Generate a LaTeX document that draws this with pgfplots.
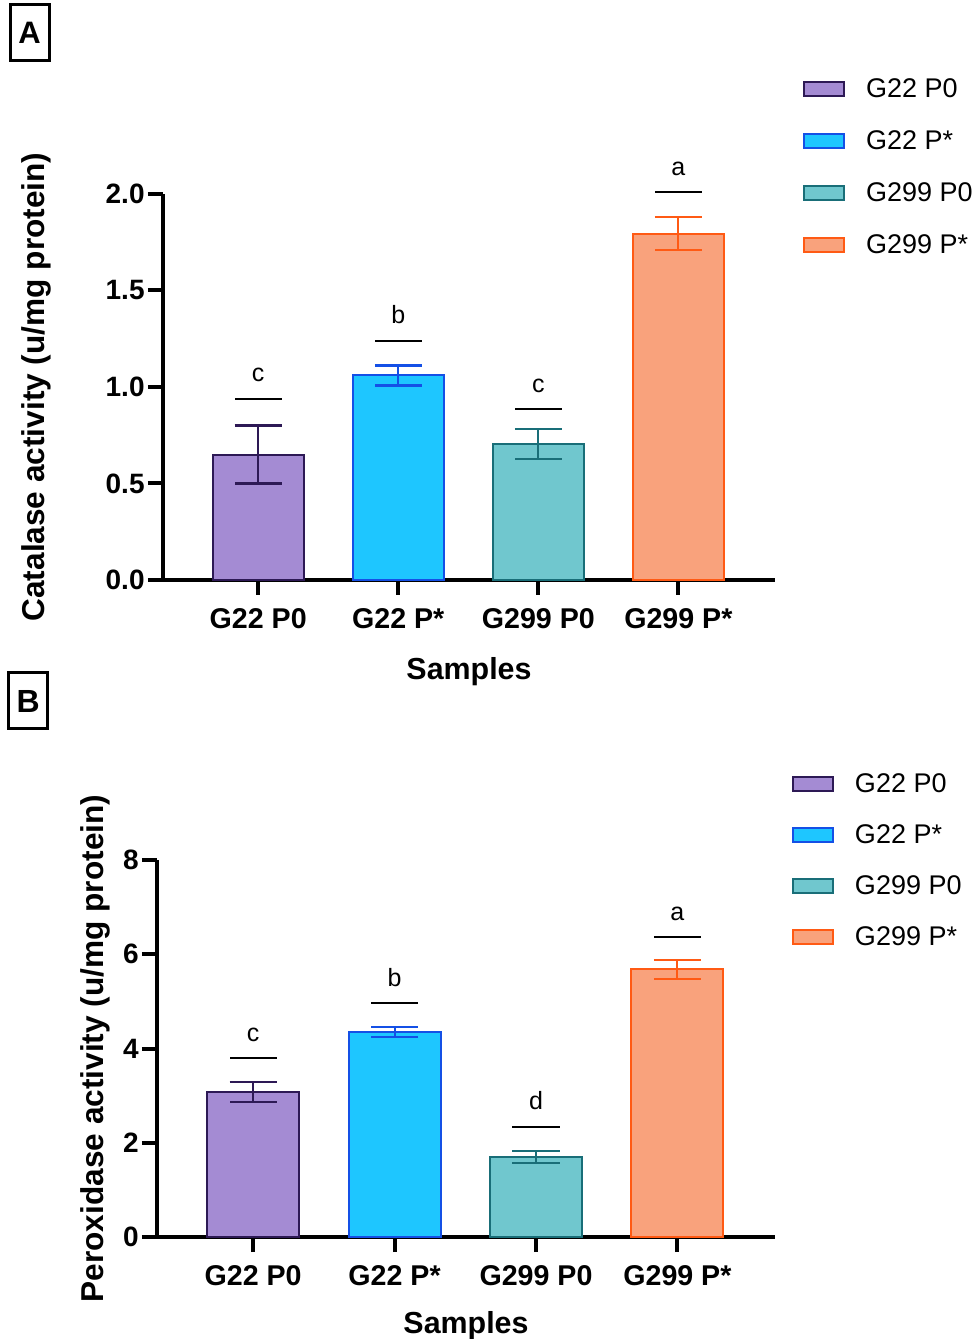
\documentclass[border=0pt]{standalone}
\usepackage{fontspec}
\setmainfont{Liberation Sans}
\usepackage{pgfplots}
\pgfplotsset{compat=1.18}

\definecolor{pfill}{RGB}{164,139,211}
\definecolor{pedge}{RGB}{45,25,85}
\definecolor{bfill}{RGB}{30,198,255}
\definecolor{bedge}{RGB}{20,80,230}
\definecolor{tfill}{RGB}{112,199,206}
\definecolor{tedge}{RGB}{25,110,120}
\definecolor{ofill}{RGB}{249,162,124}
\definecolor{oedge}{RGB}{255,90,20}

\pgfplotsset{
  panel/.style={
    scale only axis,
    axis x line=bottom, axis y line=left,
    axis line style={line width=2pt, -, black},
    xmin=-0.68, xmax=3.69, ymin=0,
    xtick={0,1,2,3},
    xticklabels={G22 P0, G22 P*, G299 P0, G299 P*},
    tick style={line width=2pt, black},
    major tick length=7.5pt,
    tick align=outside,
    /pgf/number format/assume math mode=true,
    xticklabel style={font=\fontsize{14.3}{14.3}\selectfont\bfseries, yshift=-3pt},
    yticklabel style={font=\fontsize{14}{14}\selectfont\bfseries, inner xsep=1.5pt},
    xlabel={Samples},
    xlabel style={font=\fontsize{15.2}{15.2}\selectfont\bfseries, anchor=base},
    ylabel style={font=\fontsize{15.8}{15.8}\selectfont\bfseries, anchor=center},
    clip=false,
    legend cell align=left,
    legend style={draw=none, fill=none, inner sep=0pt, outer sep=0pt,
      anchor=north west, column sep=10.5pt,
      font=\fontsize{13.5}{13.5}\selectfont,
      nodes={inner sep=0pt, text height=9.5pt, text depth=0pt}},
  },
  barstyle/.style 2 args={
    ybar, bar width=0.65, bar shift=0pt, fill=#1, draw=#2, line width=1pt,
    legend image code/.code={\draw[fill=#1,draw=#2,line width=1pt] (0pt,-3.7pt) rectangle (20pt,3.3pt);},
    error bars/y dir=both, error bars/y explicit,
    error bars/error bar style={line width=1pt, draw=#2},
    error bars/error mark options={rotate=90, draw=#2, line width=1.2pt, mark size=11.76pt},
  },
  sigstyle/.style={
    forget plot, only marks, mark=-, mark size=11.76pt, black,
    mark options={line width=1pt},
    nodes near coords, point meta=explicit symbolic,
    nodes near coords style={anchor=base, yshift=8.5pt,
      font=\fontsize{12.5}{12.5}\selectfont, black},
  },
}

\begin{document}
\begin{tikzpicture}
\useasboundingbox (0,0) rectangle (488.5pt,669.5pt);

% panel labels
\node[draw, line width=1.5pt, minimum width=19.5pt, minimum height=28pt, inner sep=0pt,
  font=\fontsize{15.5}{15.5}\selectfont\bfseries] at (14.75pt,653pt) {A};
\node[draw, line width=1.5pt, minimum width=19.5pt, minimum height=28pt, inner sep=0pt,
  font=\fontsize{16}{16}\selectfont\bfseries] at (14.15pt,319pt) {B};

% A: catalase
\begin{axis}[panel,
  at={(81.5pt,379.5pt)}, anchor=south west,
  width=306pt, height=193pt,
  ymax=2.0, ytick={0,0.5,1.0,1.5,2.0},
  yticklabel style={/pgf/number format/.cd, fixed, fixed zerofill, precision=1},
  ylabel={Catalase activity (u/mg protein)},
  ylabel style={at={(axis description cs:-0.2075,0.5)}},
  xlabel style={at={(axis description cs:0.5,-0.259)}},
  legend style={at={(rel axis cs:1.0458,1.298)}, row sep=16.5pt},
]
\addplot[barstyle={pfill}{pedge}] coordinates {(0,0.65) +- (0,0.15)};
\addlegendentry{G22 P0}
\addplot[barstyle={bfill}{bedge}] coordinates {(1,1.06) +- (0,0.052)};
\addlegendentry{G22 P*}
\addplot[barstyle={tfill}{tedge}] coordinates {(2,0.705) +- (0,0.078)};
\addlegendentry{G299 P0}
\addplot[barstyle={ofill}{oedge}] coordinates {(3,1.795) +- (0,0.085)};
\addlegendentry{G299 P*}
\addplot[sigstyle] table[meta=lab] {
x y lab
0 0.94 c
1 1.24 b
2 0.885 c
3 2.01 a
};
\end{axis}

% B: peroxidase
\begin{axis}[panel,
  at={(78.5pt,51pt)}, anchor=south west,
  width=309pt, height=188.5pt,
  ymax=8, ytick={0,2,4,6,8},
  ylabel={Peroxidase activity (u/mg protein)},
  ylabel style={at={(axis description cs:-0.1003,0.5)}},
  xlabel style={at={(axis description cs:0.5,-0.255)}},
  legend style={at={(rel axis cs:1.0275,1.2282)}, row sep=16pt},
]
\addplot[barstyle={pfill}{pedge}] coordinates {(0,3.08) +- (0,0.21)};
\addlegendentry{G22 P0}
\addplot[barstyle={bfill}{bedge}] coordinates {(1,4.35) +- (0,0.11)};
\addlegendentry{G22 P*}
\addplot[barstyle={tfill}{tedge}] coordinates {(2,1.70) +- (0,0.13)};
\addlegendentry{G299 P0}
\addplot[barstyle={ofill}{oedge}] coordinates {(3,5.68) +- (0,0.20)};
\addlegendentry{G299 P*}
\addplot[sigstyle] table[meta=lab] {
x y lab
0 3.79 c
1 4.96 b
2 2.34 d
3 6.36 a
};
\end{axis}
\end{tikzpicture}
\end{document}
